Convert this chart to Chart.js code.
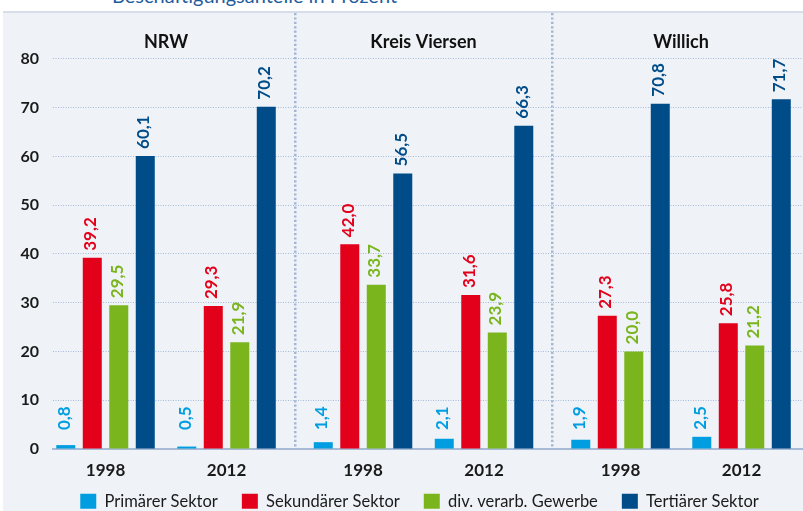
<!DOCTYPE html>
<html>
<head>
<meta charset="utf-8">
<script src="https://cdn.jsdelivr.net/npm/chart.js@4"></script>
<style>
  html, body { margin: 0; padding: 0; background: #fff; }
  #wrap { position: relative; width: 803px; height: 511px; overflow: hidden; }
  #panel { position: absolute; left: 3px; top: 11px; right: 0; bottom: 0;
           background: #eff3f7; border-top: 2px solid #d6dee9; }
  #title { position: absolute; left: 112px; top: -15px; font: 20px Lato, sans-serif;
           line-height: 20px; color: #1f5c9c; white-space: nowrap; }
  #chart { position: absolute; left: 0; top: 0; }
</style>
</head>
<body>
<div id="wrap">
  <div id="title">Beschäftigungsanteile in Prozent</div>
  <div id="panel"></div>
  <canvas id="chart" width="803" height="511"></canvas>
</div>
<script>
// Beschäftigungsanteile nach Sektoren, in Prozent
const regions = ["NRW", "Kreis Viersen", "Willich"];
const years = ["1998", "2012", "1998", "2012", "1998", "2012"];
const seriesNames = ["Primärer Sektor", "Sekundärer Sektor", "div. verarb. Gewerbe", "Tertiärer Sektor"];
const primaer = [0.8, 0.5, 1.4, 2.1, 1.9, 2.5];
const sekundaer = [39.2, 29.3, 42.0, 31.6, 27.3, 25.8];
const verarbGewerbe = [29.5, 21.9, 33.7, 23.9, 20.0, 21.2];
const tertiaer = [60.1, 70.2, 56.5, 66.3, 70.8, 71.7];
const yTicks = [0, 10, 20, 30, 40, 50, 60, 70, 80];

const colors = ["#009ee0", "#e3001b", "#7ab51d", "#004c89"];
const seriesValues = [primaer, sekundaer, verarbGewerbe, tertiaer];

// category axis with a little extra room between the regions
const PER_REGION = 2;
const LEFT_PAD = 0.434;
const REGION_GAP = 0.128;
const SPAN = 6.198;

class RegionCategoryScale extends Chart.CategoryScale {
  getPixelForValue(value) {
    if (typeof value !== "number") value = this.parse(value);
    if (value === null || isNaN(value)) return NaN;
    const pos = LEFT_PAD + value + REGION_GAP * Math.floor(value / PER_REGION);
    return this.getPixelForDecimal(pos / SPAN);
  }
}
RegionCategoryScale.id = "regionCategory";
Chart.register(RegionCategoryScale);

Chart.defaults.font.family = "Lato, 'Open Sans', sans-serif";

const fmt = v => v.toFixed(1).replace(".", ",");

const valueLabels = {
  id: "valueLabels",
  afterDatasetsDraw(chart) {
    const ctx = chart.ctx;
    const base = chart.scales.y.getPixelForValue(0);
    ctx.save();
    ctx.font = "bold 17px Lato, sans-serif";
    ctx.textAlign = "left";
    ctx.textBaseline = "middle";
    chart.data.datasets.forEach((ds, di) => {
      chart.getDatasetMeta(di).data.forEach((bar, i) => {
        const y = Math.min(bar.y - 7, base - 19);
        ctx.save();
        ctx.translate(bar.x - 1.5, y);
        ctx.rotate(-Math.PI / 2);
        ctx.fillStyle = ds.backgroundColor;
        ctx.fillText(fmt(ds.data[i]), 0, 0);
        ctx.restore();
      });
    });
    ctx.restore();
  }
};

const regionTitles = {
  id: "regionTitles",
  afterDraw(chart) {
    const ctx = chart.ctx;
    const x = chart.scales.x;
    ctx.save();
    ctx.font = "bold 18px Lato, sans-serif";
    ctx.fillStyle = "#111";
    ctx.textAlign = "center";
    ctx.textBaseline = "middle";
    regions.forEach((name, r) => {
      const cx = (x.getPixelForTick(r * PER_REGION) + x.getPixelForTick(r * PER_REGION + 1)) / 2;
      ctx.fillText(name, cx, 42);
    });
    ctx.restore();
  }
};

// pull the legend up under the year labels and centre it right of the y labels
const legendPlacement = {
  id: "legendPlacement",
  afterLayout(chart) {
    const lg = chart.legend;
    const h = lg.bottom - lg.top;
    lg.top = 469;
    lg.bottom = lg.top + h;
    lg.left = 36;
    lg.width = lg.right - lg.left;
  }
};

new Chart(document.getElementById("chart"), {
  type: "bar",
  data: {
    labels: years,
    datasets: seriesNames.map((name, i) => ({
      label: name,
      data: seriesValues[i],
      backgroundColor: colors[i],
      categoryPercentage: 0.876,
      barPercentage: 0.717
    }))
  },
  options: {
    responsive: false,
    animation: false,
    events: [],
    layout: { padding: { top: 13, left: 0, right: 0, bottom: -20 } },
    scales: {
      x: {
        type: "regionCategory",
        afterFit: s => { s.height = 31.5; s.paddingLeft = 0; s.paddingRight = 0; },
        grid: {
          drawTicks: false,
          lineWidth: 2.5,
          color: c => (c.index === 2 || c.index === 4) ? "#a3b6d6" : "rgba(0,0,0,0)"
        },
        border: { display: true, color: "#a8bbd6", width: 2, dash: [2.2, 2.2] },
        ticks: { font: { size: 17, weight: "bold" }, color: "#1a1a1a", padding: 11.5 }
      },
      y: {
        min: 0,
        max: 89.4,
        afterFit: s => { s.width = 53; s.paddingTop = 0; s.paddingBottom = 0; },
        afterBuildTicks: s => { s.ticks = yTicks.map(v => ({ value: v })); },
        grid: { drawTicks: false, color: "#a3badb", lineWidth: 1 },
        border: { display: false, dash: [1, 1.5] },
        ticks: { font: { size: 16, weight: "bold" }, color: "#1a1a1a", padding: 14 }
      }
    },
    plugins: {
      tooltip: { enabled: false },
      legend: {
        position: "bottom",
        labels: {
          boxWidth: 16,
          boxHeight: 15,
          padding: 24,
          color: "#1a1a1a",
          font: { size: 16.5 }
        }
      }
    }
  },
  plugins: [valueLabels, regionTitles, legendPlacement]
});
</script>
</body>
</html>
